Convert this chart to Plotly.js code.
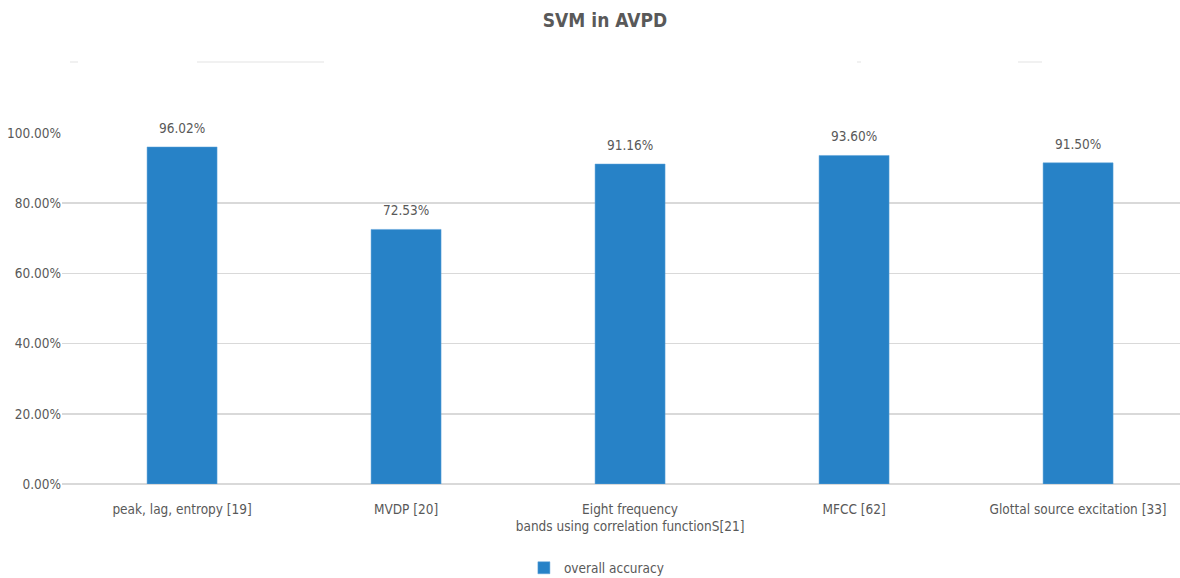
<!DOCTYPE html>
<html>
<head>
<meta charset="utf-8">
<script src="https://cdn.plot.ly/plotly-3.0.1.min.js"></script>
<style>html,body{margin:0;padding:0;background:#fff;}#chart{width:1180px;height:578px;}</style>
</head>
<body>
<div id="chart"></div>
<script>
const categories = [
  "peak, lag, entropy [19]",
  "MVDP [20]",
  "Eight frequency<br>bands using correlation functionS[21]",
  "MFCC [62]",
  "Glottal source excitation [33]"
];
const accuracy = [0.9602, 0.7253, 0.9116, 0.9360, 0.9150];
const yTickVals = [0, 0.2, 0.4, 0.6, 0.8, 1.0];
const yTickText = ["0.00%", "20.00%", "40.00%", "60.00%", "80.00%", "100.00%"];

const FONT = '"DejaVu Sans Condensed", "Liberation Sans", Arial, sans-serif';
const GREY = '#595959';
const idx = categories.map((c, i) => i);

const trace = {
  type: 'bar',
  x: idx,
  y: accuracy,
  name: 'overall accuracy',
  width: 0.3125,
  marker: {color: '#2782c7', line: {color: '#5fa3d9', width: 0.5}},
  hoverinfo: 'skip'
};

const labels = idx.map(i => ({
  x: i, y: accuracy[i], xref: 'x', yref: 'y',
  text: (accuracy[i] * 100).toFixed(2) + '%',
  showarrow: false, yanchor: 'middle', yshift: 19,
  font: {family: FONT, size: 13.5, color: GREY}
}));

const lineY = (484 - 62) / 351;
const seg = (a, b, y) => ({type: 'line', xref: 'paper', yref: 'paper',
  x0: (a - 62) / 1118, x1: (b - 62) / 1118, y0: y, y1: y, line: {color: '#ececec', width: 1.5}});

const layout = {
  width: 1180, height: 578,
  margin: {l: 62, r: 0, t: 133, b: 94},
  paper_bgcolor: '#fff', plot_bgcolor: '#fff',
  font: {family: FONT, color: GREY},
  title: {text: '<b>SVM in AVPD</b>', font: {family: FONT, size: 19, color: GREY},
    x: (605 - 62) / 1118, xref: 'paper', xanchor: 'center', y: 0.965, yanchor: 'middle'},
  xaxis: {
    range: [-0.536, 4.455],
    tickmode: 'array', tickvals: idx, ticktext: categories,
    showgrid: false, zeroline: false, showline: false, ticks: '',
    ticklabelstandoff: 15, automargin: false,
    tickfont: {family: FONT, size: 13.5, color: GREY}, fixedrange: true
  },
  yaxis: {
    range: [0, 1],
    tickmode: 'array', tickvals: yTickVals, ticktext: yTickText,
    showgrid: true, gridcolor: '#d9d9d9', gridwidth: 1.5,
    zeroline: true, zerolinecolor: '#d9d9d9', zerolinewidth: 1.5,
    showline: false, ticks: '', automargin: false,
    tickfont: {family: FONT, size: 13.5, color: GREY}, fixedrange: true
  },
  showlegend: true,
  legend: {orientation: 'h', x: 0.478, xanchor: 'center', yref: 'container', y: (578 - 568) / 578, yanchor: 'middle',
    font: {family: FONT, size: 13.5, color: GREY}, itemwidth: 30},
  annotations: labels,
  shapes: [seg(70, 78, lineY), seg(197, 324, lineY), seg(857, 861, lineY), seg(1018, 1042, lineY)]
};

Plotly.newPlot('chart', [trace], layout, {displayModeBar: false, staticPlot: true});
</script>
</body>
</html>
